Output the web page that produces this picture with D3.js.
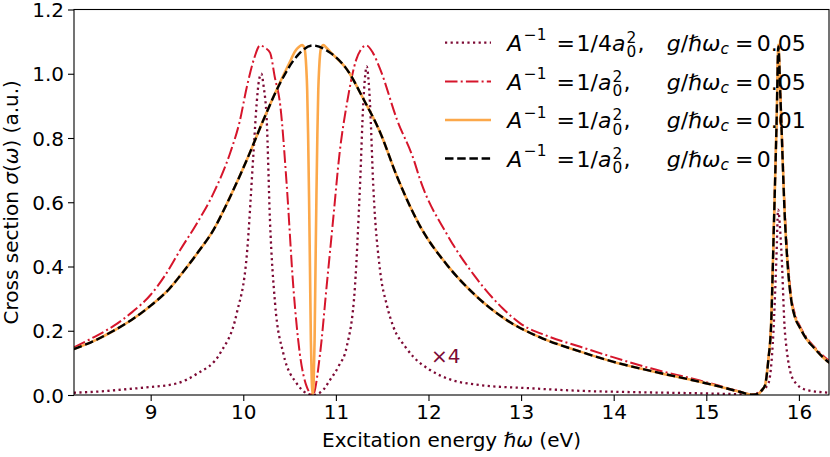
<!DOCTYPE html>
<html>
<head>
<meta charset="utf-8">
<script src="https://cdn.jsdelivr.net/npm/d3@7"></script>
<style>
  html, body { margin: 0; padding: 0; background: #fff; }
  svg { display: block; font-family: "DejaVu Sans", sans-serif; }
</style>
</head>
<body>
<svg id="chart" width="830" height="457"></svg>
<script>
// ---------- data ----------
const xTicks = [9, 10, 11, 12, 13, 14, 15, 16];
const yTicks = [0.0, 0.2, 0.4, 0.6, 0.8, 1.0, 1.2];

// g = 0 (black dashed)
const blackE = [8.17, 8.4, 8.6, 8.8, 9.0, 9.2, 9.32, 9.5, 9.68, 9.85, 10.04, 10.22, 10.4, 10.58, 10.75, 10.94, 11.12, 11.3, 11.48, 11.66, 11.91, 12.2, 12.5, 12.84, 13.2, 13.64, 14.0, 14.4, 14.93, 15.15, 15.36, 15.5, 15.56, 15.6, 15.634, 15.67, 15.70, 15.73, 15.76, 15.778, 15.80, 15.85, 15.88, 15.92, 15.96, 16.01, 16.08, 16.16, 16.25, 16.33];
const blackV = [0.143, 0.17, 0.2, 0.235, 0.278, 0.33, 0.372, 0.44, 0.515, 0.612, 0.733, 0.858, 0.972, 1.055, 1.088, 1.065, 1.013, 0.92, 0.816, 0.68, 0.525, 0.405, 0.312, 0.234, 0.18, 0.135, 0.103, 0.075, 0.041, 0.026, 0.010, 0.001, 0.003, 0.015, 0.03, 0.11, 0.22, 0.53, 0.86, 1.085, 0.93, 0.54, 0.40, 0.29, 0.24, 0.21, 0.175, 0.148, 0.12, 0.10];

// g = 0.01 (orange solid)
const orangeE = [8.17, 8.4, 8.6, 8.8, 9.0, 9.2, 9.32, 9.5, 9.68, 9.85, 10.04, 10.22, 10.4, 10.5, 10.56, 10.60, 10.635, 10.66, 10.68, 10.69, 10.70, 10.71, 10.72, 10.73, 10.74, 10.75, 10.76, 10.77, 10.78, 10.79, 10.80, 10.81, 10.82, 10.84, 10.865, 10.90, 10.95, 11.12, 11.3, 11.48, 11.66, 11.91, 12.2, 12.5, 12.84, 13.2, 13.64, 14.0, 14.4, 14.93, 15.15, 15.36, 15.5, 15.56, 15.6, 15.634, 15.67, 15.70, 15.73, 15.76, 15.778, 15.80, 15.85, 15.88, 15.92, 15.96, 16.01, 16.08, 16.16, 16.25, 16.33];
const orangeV = [0.143, 0.17, 0.2, 0.235, 0.278, 0.33, 0.372, 0.44, 0.515, 0.612, 0.733, 0.858, 0.975, 1.035, 1.07, 1.083, 1.089, 1.08, 1.02, 0.95, 0.81, 0.62, 0.40, 0.17, 0.04, 0.0, 0.04, 0.17, 0.40, 0.62, 0.81, 0.95, 1.02, 1.08, 1.089, 1.08, 1.065, 1.013, 0.92, 0.816, 0.68, 0.525, 0.405, 0.312, 0.234, 0.18, 0.135, 0.103, 0.075, 0.041, 0.026, 0.010, 0.001, 0.003, 0.015, 0.03, 0.11, 0.22, 0.53, 0.86, 1.09, 0.93, 0.54, 0.40, 0.29, 0.24, 0.21, 0.175, 0.148, 0.12, 0.10];

// g = 0.05, A^-1 = 1/a0^2 (red dash-dot)
const redE = [8.17, 8.4, 8.6, 8.8, 9.0, 9.15, 9.32, 9.5, 9.68, 9.86, 9.96, 10.04, 10.12, 10.18, 10.24, 10.29, 10.34, 10.40, 10.47, 10.54, 10.61, 10.685, 10.75, 10.83, 10.90, 10.97, 11.04, 11.12, 11.22, 11.27, 11.33, 11.40, 11.48, 11.66, 11.84, 11.91, 12.2, 12.5, 12.8, 12.99, 13.3, 13.64, 14.0, 14.4, 14.93, 15.15, 15.36, 15.5, 15.56, 15.6, 15.634, 15.67, 15.70, 15.73, 15.76, 15.778, 15.80, 15.85, 15.88, 15.92, 15.96, 16.01, 16.08, 16.16, 16.25, 16.33];
const redV = [0.148, 0.182, 0.215, 0.258, 0.312, 0.37, 0.452, 0.535, 0.629, 0.755, 0.85, 0.961, 1.05, 1.088, 1.08, 1.065, 0.99, 0.9, 0.65, 0.338, 0.13, 0.026, 0.0, 0.13, 0.338, 0.545, 0.753, 0.909, 1.044, 1.075, 1.088, 1.065, 1.013, 0.857, 0.733, 0.67, 0.50, 0.37, 0.27, 0.223, 0.182, 0.15, 0.117, 0.083, 0.045, 0.028, 0.011, 0.002, 0.004, 0.016, 0.031, 0.11, 0.22, 0.53, 0.86, 1.075, 0.94, 0.56, 0.42, 0.30, 0.25, 0.215, 0.18, 0.152, 0.125, 0.105];

// g = 0.05, A^-1 = 1/4a0^2 (maroon dotted, x4)
const purpleE = [8.17, 8.5, 8.74, 9.0, 9.28, 9.5, 9.75, 9.93, 10.04, 10.11, 10.145, 10.17, 10.195, 10.22, 10.253, 10.288, 10.343, 10.432, 10.577, 10.65, 10.75, 10.85, 10.937, 11.03, 11.117, 11.206, 11.26, 11.296, 11.315, 11.333, 11.35, 11.368, 11.404, 11.476, 11.55, 11.62, 11.75, 11.836, 12.016, 12.197, 12.556, 13.096, 13.636, 14.2, 14.8, 15.3, 15.5, 15.58, 15.67, 15.724, 15.76, 15.775, 15.81, 15.85, 15.94, 16.08, 16.33];
const purpleV = [0.007, 0.012, 0.018, 0.025, 0.036, 0.066, 0.13, 0.255, 0.442, 0.753, 0.909, 0.98, 1.0, 0.96, 0.857, 0.545, 0.286, 0.13, 0.036, 0.012, 0.0, 0.012, 0.047, 0.09, 0.15, 0.338, 0.649, 0.909, 0.99, 1.023, 0.99, 0.909, 0.649, 0.39, 0.28, 0.213, 0.15, 0.119, 0.078, 0.052, 0.031, 0.021, 0.013, 0.009, 0.006, 0.003, 0.002, 0.01, 0.036, 0.192, 0.452, 0.577, 0.452, 0.192, 0.047, 0.016, 0.007];

const seriesList = [
  { name: "p", E: purpleE, V: purpleV, color: "#7d0a35", width: 2.3, dash: "2.2,3.4" },
  { name: "r", E: redE, V: redV, color: "#d6152b", width: 2.0, dash: "12.5,3.2,2,3.2" },
  { name: "o", E: orangeE, V: orangeV, color: "#fca84a", width: 2.6, dash: null },
  { name: "k", E: blackE, V: blackV, color: "#000000", width: 2.4, dash: "8.5,3.7" }
];

// ---------- layout ----------
const svg = d3.select("#chart");
const L = 74, R = 829, T = 9.5, B = 395;
const x = d3.scaleLinear().domain([8.172, 16.325]).range([L, R]);
const y = d3.scaleLinear().domain([0, 1.2]).range([B, T]);

svg.append("defs").append("clipPath").attr("id", "clip")
  .append("rect").attr("x", L).attr("y", T).attr("width", R - L).attr("height", B - T);

const plot = svg.append("g").attr("clip-path", "url(#clip)");
const line = d3.line().x(d => x(d[0])).y(d => y(d[1])).curve(d3.curveMonotoneX);
seriesList.forEach(s => {
  const pts = s.E.map((e, i) => [e, s.V[i]]);
  plot.append("path").attr("d", line(pts))
    .attr("fill", "none").attr("stroke", s.color).attr("stroke-width", s.width)
    .attr("stroke-dasharray", s.dash).attr("stroke-linejoin", "round");
});

// axes
const ax = svg.append("g").attr("transform", `translate(0,${B})`)
  .call(d3.axisBottom(x).tickValues(xTicks).tickFormat(d3.format("d")).tickSize(6).tickPadding(4));
const ay = svg.append("g").attr("transform", `translate(${L},0)`)
  .call(d3.axisLeft(y).tickValues(yTicks).tickFormat(d3.format(".1f")).tickSize(6).tickPadding(4));
[ax, ay].forEach(a => {
  a.select(".domain").remove();
  a.selectAll(".tick line").attr("stroke", "#000").attr("stroke-width", 1.1);
  a.selectAll(".tick text").attr("font-size", 20).attr("fill", "#000")
    .attr("font-family", "DejaVu Sans");
});
ay.selectAll(".tick text").attr("dy", "0.36em");

svg.append("rect").attr("x", L).attr("y", T).attr("width", R - L).attr("height", B - T)
  .attr("fill", "none").attr("stroke", "#000").attr("stroke-width", 1.1);

// axis labels
const xl = svg.append("text").attr("x", (L + R) / 2).attr("y", 447).attr("text-anchor", "middle")
  .attr("font-size", 20);
xl.append("tspan").text("Excitation energy ");
xl.append("tspan").attr("font-style", "italic").text("ℏω");
xl.append("tspan").text(" (eV)");

const yl = svg.append("text").attr("transform", `translate(18,${(T + B) / 2}) rotate(-90)`)
  .attr("text-anchor", "middle").attr("font-size", 20);
yl.append("tspan").text("Cross section ");
yl.append("tspan").attr("font-style", "italic").text("σ");
yl.append("tspan").text("(");
yl.append("tspan").attr("font-style", "italic").text("ω");
yl.append("tspan").text(") (a.u.)");

// x4 annotation
svg.append("text").attr("x", 431).attr("y", 363).attr("font-size", 20)
  .attr("fill", "#7d0a35").text("×4");

// ---------- legend ----------
const legendRows = [
  { key: 0, lhs: "1/4", g: "0.05" },
  { key: 1, lhs: "1/", g: "0.05" },
  { key: 2, lhs: "1/", g: "0.01" },
  { key: 3, lhs: "1/", g: "0" }
];
const rowY = [42.7, 81.5, 120, 158.5];
const FS = 22, SS = 15.4;
const lg = svg.append("g");

legendRows.forEach((r, i) => {
  const s = seriesList[r.key];
  const ly = rowY[i];
  lg.append("line").attr("x1", 445).attr("x2", 491).attr("y1", ly).attr("y2", ly)
    .attr("stroke", s.color).attr("stroke-width", s.width).attr("stroke-dasharray", s.dash);
  const by = ly + 8;
  // A^{-1} = 1/(4)a_0^2,  (one text element)
  const t1 = lg.append("text").attr("x", 507.3).attr("y", by).attr("font-size", FS);
  t1.append("tspan").attr("font-style", "italic").text("A");
  t1.append("tspan").attr("font-size", SS).attr("dx", 1.5).attr("dy", -10.5).text("−1");
  t1.append("tspan").attr("x", 556.5).attr("y", by).text("=");
  t1.append("tspan").attr("x", 576.5).text(r.lhs);
  t1.append("tspan").attr("font-style", "italic").text("a");
  const bb = t1.node().getBBox();
  const subX = bb.x + bb.width + 1;
  t1.append("tspan").attr("font-size", SS).attr("x", subX).attr("y", by + 6.6).text("0");
  t1.append("tspan").attr("font-size", SS).attr("x", subX).attr("y", by - 7.6).text("2");
  t1.append("tspan").attr("x", subX + 11).attr("y", by).text(",");
  // g/ħω_c = value
  const t3 = lg.append("text").attr("x", 666.7).attr("y", by).attr("font-size", FS);
  t3.append("tspan").attr("font-style", "italic").text("g");
  t3.append("tspan").text("/");
  t3.append("tspan").attr("font-style", "italic").text("ℏω");
  t3.append("tspan").attr("font-style", "italic").attr("font-size", SS).attr("dy", 3).text("c");
  t3.append("tspan").attr("x", 735).attr("y", by).text("=");
  t3.append("tspan").attr("x", 756.7).text(r.g);
});
</script>
</body>
</html>
